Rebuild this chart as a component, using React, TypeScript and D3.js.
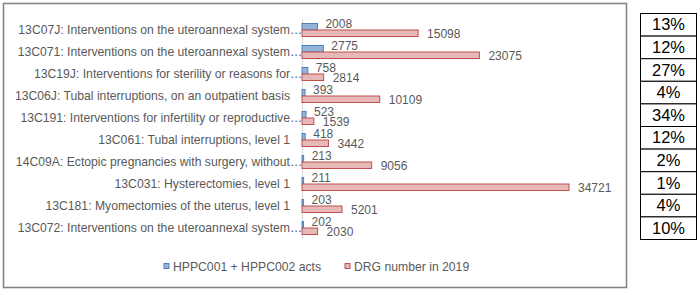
import React from "react";
import * as d3 from "d3";

const categories = [
  "13C07J: Interventions on the uteroannexal system",
  "13C071: Interventions on the uteroannexal system",
  "13C19J: Interventions for sterility or reasons for",
  "13C06J: Tubal interruptions, on an outpatient basis",
  "13C191: Interventions for infertility or reproductive",
  "13C061: Tubal interruptions, level 1",
  "14C09A: Ectopic pregnancies with surgery, without",
  "13C031: Hysterectomies, level 1",
  "13C181: Myomectomies of the uterus, level 1",
  "13C072: Interventions on the uteroannexal system",
];
const truncated = [true, true, true, false, true, false, true, false, false, true];
const hppcActs = [2008, 2775, 758, 393, 523, 418, 213, 211, 203, 202];
const drgNumbers = [15098, 23075, 2814, 10109, 1539, 3442, 9056, 34721, 5201, 2030];
const percents = ["13%", "12%", "27%", "4%", "34%", "12%", "2%", "1%", "4%", "10%"];
const seriesNames = ["HPPC001 + HPPC002 acts", "DRG number in 2019"];

const W = 700;
const H = 292;
const axisX = 302;
const FONT = "'Liberation Sans', Arial, sans-serif";
const textGrey = "#595959";

export default function App() {
  const x = d3.scaleLinear().domain([0, 34721]).range([axisX, 569]);
  const y = d3.scaleBand().domain(categories.map((_, i) => String(i))).range([19, 239]);
  const bh = 6.5;

  const tableY = d3.scaleBand().domain(percents.map((_, i) => String(i))).range([13, 239]);

  return (
    <svg width={W} height={H} style={{ position: "absolute", left: 0, top: 0 }} fontFamily={FONT}>
      <rect x={0} y={0} width={W} height={H} fill="#fff" />
      {/* chart frame */}
      <rect x={3.5} y={3.5} width={623} height={284} fill="#fff" stroke="#858585" strokeWidth={1.6} />
      {/* axis line */}
      <line x1={axisX + 0.5} x2={axisX + 0.5} y1={19} y2={239} stroke="#d9d9d9" strokeWidth={1} />
      {categories.map((c, i) => {
        const yc = (y(String(i)) as number) + y.bandwidth() / 2;
        return (
          <g key={i}>
            <text x={290} y={yc + 4} fontSize={12.2} fill={textGrey} textAnchor="end">
              {c}
            </text>
            {truncated[i] && (
              <text x={290} y={yc + 4} fontSize={12.2} fill={textGrey}>
                …
              </text>
            )}
            <rect
              x={axisX}
              y={yc - bh}
              width={x(hppcActs[i]) - axisX}
              height={bh}
              fill="#95b3d7"
              stroke="#4f81bd"
              strokeWidth={1}
            />
            <rect
              x={axisX}
              y={yc}
              width={x(drgNumbers[i]) - axisX}
              height={bh}
              fill="#e6b9b8"
              stroke="#c0504d"
              strokeWidth={1}
            />
            <text x={x(hppcActs[i]) + 8} y={yc - 2.5} fontSize={12} fill={textGrey}>
              {hppcActs[i]}
            </text>
            <text x={x(drgNumbers[i]) + 9} y={yc + 8} fontSize={12} fill={textGrey}>
              {drgNumbers[i]}
            </text>
          </g>
        );
      })}
      {/* legend */}
      <rect x={164} y={263.5} width={5} height={5} fill="#95b3d7" stroke="#4f81bd" strokeWidth={1} />
      <text x={173} y={270.5} fontSize={12.2} fill={textGrey}>
        {seriesNames[0]}
      </text>
      <rect x={345} y={263.5} width={5} height={5} fill="#e6b9b8" stroke="#c0504d" strokeWidth={1} />
      <text x={354} y={270.5} fontSize={12.2} fill={textGrey}>
        {seriesNames[1]}
      </text>
      {/* table */}
      {percents.map((p, i) => {
        const ty = tableY(String(i)) as number;
        return (
          <g key={i}>
            <rect x={640.5} y={ty + 0.5} width={56} height={tableY.bandwidth()} fill="#fff" stroke="#000" strokeWidth={1} />
            <text x={668.5} y={ty + tableY.bandwidth() / 2 + 6} fontSize={16.5} fill="#000" textAnchor="middle">
              {p}
            </text>
          </g>
        );
      })}
    </svg>
  );
}
